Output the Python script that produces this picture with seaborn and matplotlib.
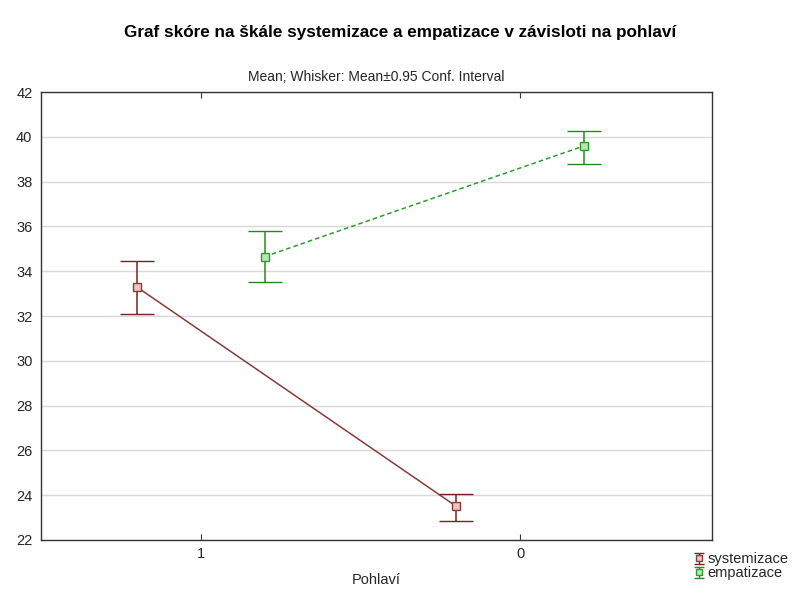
import numpy as np
import pandas as pd
import matplotlib
matplotlib.use("Agg")
import matplotlib.pyplot as plt
from matplotlib.container import ErrorbarContainer
from matplotlib.legend_handler import HandlerErrorbar
import seaborn as sns

# values
pohlavi = ["1", "0"]
series = ["systemizace", "empatizace"]
systemizace_mean = [33.3, 23.5]
systemizace_low = [32.1, 22.85]
systemizace_high = [34.45, 24.05]
empatizace_mean = [34.65, 39.6]
empatizace_low = [33.5, 38.8]
empatizace_high = [35.8, 40.25]
yticks = [22, 24, 26, 28, 30, 32, 34, 36, 38, 40, 42]

df = pd.DataFrame({
    "Pohlaví": pohlavi * 2,
    "serie": [series[0]] * 2 + [series[1]] * 2,
    "mean": systemizace_mean + empatizace_mean,
    "low": systemizace_low + empatizace_low,
    "high": systemizace_high + empatizace_high,
})

sns.set_style("white")
plt.rcParams["font.family"] = ["Liberation Sans", "DejaVu Sans"]

colors = {"systemizace": "#7a2020", "empatizace": "#228b22"}
line_colors = {"systemizace": "#8b3a3a", "empatizace": "#2e9b2e"}
face_colors = {"systemizace": "#eec4c4", "empatizace": "#b4e8b4"}
styles = {"systemizace": "-", "empatizace": (0, (3, 2))}
offsets = {"systemizace": -0.2, "empatizace": 0.2}

fig = plt.figure(figsize=(8, 5.94), dpi=100)
ax = fig.add_axes([0.051, 0.091, 0.839, 0.754])

handles = []
for s in series:
    d = df[df["serie"] == s]
    x = np.arange(len(pohlavi)) + offsets[s]
    sns.lineplot(x=x, y=d["mean"].values, ax=ax, color=line_colors[s],
                 linestyle=styles[s], linewidth=1.1, legend=False)
    ax.errorbar(x, d["mean"].values,
                yerr=[d["mean"].values - d["low"].values, d["high"].values - d["mean"].values],
                fmt="s", color=colors[s], ecolor=colors[s], elinewidth=1.1,
                capsize=12, capthick=1.1, markersize=6,
                markerfacecolor=face_colors[s], markeredgecolor=line_colors[s],
                markeredgewidth=1, zorder=3)
    # small proxy for the legend glyph (nan -> nothing drawn on the axes)
    eb = ax.errorbar([np.nan], [np.nan], yerr=[[1], [1]], fmt="s", color=colors[s],
                     ecolor=colors[s], elinewidth=1, capsize=3.5, capthick=1, markersize=4,
                     markerfacecolor=face_colors[s], markeredgecolor=line_colors[s])
    handles.append(eb)

ax.set_xlim(-0.5, 1.6)
ax.set_ylim(22, 42)
ax.set_xticks(range(len(pohlavi)))
ax.set_xticklabels(pohlavi, fontsize=10.5)
ax.set_yticks(yticks)
ax.set_yticklabels([str(t) for t in yticks], fontsize=10.5)
ax.yaxis.grid(True, color="#d8d8d8", linewidth=1)
ax.xaxis.grid(False)
ax.tick_params(axis="x", direction="in", top=True, bottom=True, length=4, color="#333333", pad=5)
ax.tick_params(axis="y", length=0, pad=6)
for sp in ax.spines.values():
    sp.set_color("#333333")
    sp.set_linewidth(1)
ax.set_xlabel("Pohlaví", fontsize=10.5, labelpad=9)
ax.set_ylabel("")
ax.set_title("Mean; Whisker: Mean±0.95 Conf. Interval", fontsize=10, pad=8)

fig.text(0.5, 0.945, "Graf skóre na škále systemizace a empatizace v závisloti na pohlaví",
         ha="center", va="center", fontsize=12.3, fontweight="bold", color="black")

fig.legend(handles=handles, labels=series, loc="lower left",
           bbox_to_anchor=(0.855, 0.006), frameon=False, fontsize=10.5,
           handlelength=0.6, handletextpad=0.3, labelspacing=0.0, borderpad=0.2,
           handleheight=0.6,
           handler_map={ErrorbarContainer: HandlerErrorbar(yerr_size=0.4)})

fig.savefig("out.png", dpi=100)
